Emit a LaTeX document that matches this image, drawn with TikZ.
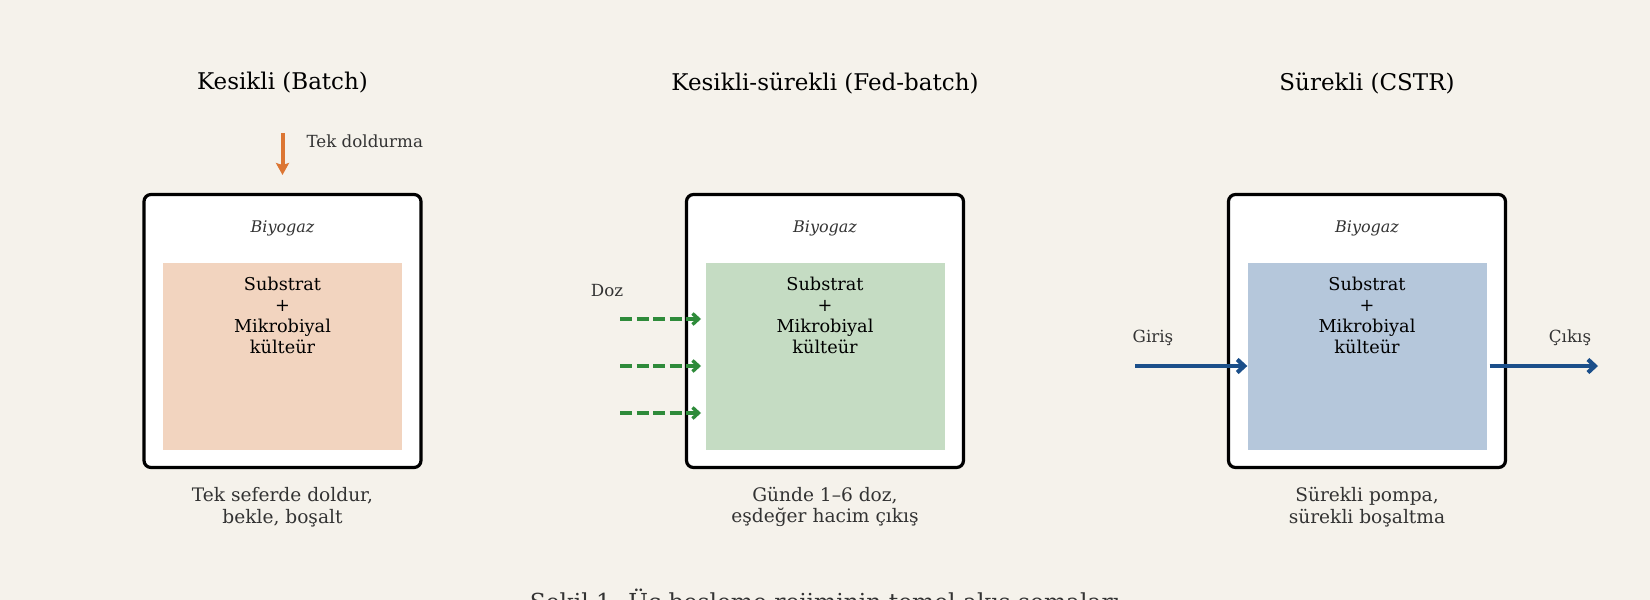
\documentclass[tikz,border=0pt]{standalone}
\usepackage{fontspec}
\setmainfont{DejaVu Serif}
\usetikzlibrary{positioning,arrows.meta}
\definecolor{paper}{HTML}{F5F2EB}
\definecolor{batchFill}{HTML}{F2D4BF}
\definecolor{fedFill}{HTML}{C5DCC3}
\definecolor{cstrFill}{HTML}{B5C7DB}
\definecolor{fillOrange}{HTML}{DC7633}
\definecolor{dozGreen}{HTML}{2E8B3A}
\definecolor{flowBlue}{HTML}{1B4F8A}
\definecolor{inkGray}{HTML}{333333}
\tikzset{
  vessel/.style={draw, line width=3.2pt, rounded corners=7pt, fill=white,
    minimum width=277pt, minimum height=273pt},
  culture/.style={minimum width=239pt, minimum height=187pt, inner sep=0pt},
  mixtext/.style={align=center, font=\fontsize{17.7}{21}\selectfont, inner sep=0pt},
  regime/.style={font=\fontsize{23}{27}\selectfont},
  gas/.style={font=\fontsize{16}{19}\selectfont\itshape, text=inkGray},
  note/.style={align=center, font=\fontsize{18.6}{21.5}\selectfont, text=inkGray},
  tag/.style={font=\fontsize{16.7}{19}\selectfont, text=inkGray},
  onearrow/.style={draw=fillOrange, line width=4pt, -{Stealth[length=12pt,width=13pt,inset=2pt]}},
  dozarrow/.style={draw=dozGreen, line width=3.4pt, dash pattern=on 12pt off 4.5pt,
    -{Straight Barb[length=6pt,width=11pt]}},
  flowarrow/.style={draw=flowBlue, line width=4.2pt, -{Straight Barb[length=7pt,width=13pt]}}
}
\begin{document}
\begin{tikzpicture}[x=1pt,y=-1pt]
    \fill[paper] (0,0) rectangle (1650,600);
    \useasboundingbox (0,0) rectangle (1650,600);

    % Batch
    \node[regime] (batchtitle) at (282.5,83) {Kesikli (Batch)};
    \node[vessel] (batch) at (282.5,331) {};
    \node[gas] (batchgas) at (282.5,228) {Biyogaz};
    \node[culture, fill=batchFill] (batchmix) at (282.5,356.5) {};
    \node[mixtext, below=14pt of batchmix.north] (batchtext) {Substrat\\+\\Mikrobiyal\\külteür};
    \node[note] (batchnote) at (282.5,507) {Tek seferde doldur,\\bekle, boşalt};
    \coordinate (filltop) at (282.5,133);
    \coordinate (fillend) at (282.5,175);
    \draw[onearrow] (filltop) -- (fillend);
    \node[tag, anchor=west] (filltag) at (303,141) {Tek doldurma};

    % Fed-batch
    \node[regime] (fedtitle) at (825,83) {Kesikli-sürekli (Fed-batch)};
    \node[vessel] (fed) at (825,331) {};
    \node[gas] (fedgas) at (825,228) {Biyogaz};
    \node[culture, fill=fedFill] (fedmix) at (825,356.5) {};
    \node[mixtext, below=14pt of fedmix.north] (fedtext) {Substrat\\+\\Mikrobiyal\\külteür};
    \node[note] (fednote) at (825,507) {Günde 1–6 doz,\\eşdeğer hacim çıkış};
    \node[tag] (doztag) at (607,291) {Doz};
    \foreach \i/\y in {1/319,2/366,3/413} {
        \coordinate (doz\i) at (620,\y);
        \coordinate (dozend\i) at (701,\y);
        \draw[dozarrow] (doz\i) -- (dozend\i);
    }

    % CSTR
    \node[regime] (cstrtitle) at (1367,83) {Sürekli (CSTR)};
    \node[vessel] (cstr) at (1367,331) {};
    \node[gas] (cstrgas) at (1367,228) {Biyogaz};
    \node[culture, fill=cstrFill] (cstrmix) at (1367,356.5) {};
    \node[mixtext, below=14pt of cstrmix.north] (cstrtext) {Substrat\\+\\Mikrobiyal\\külteür};
    \node[note] (cstrnote) at (1367,507) {Sürekli pompa,\\sürekli boşaltma};
    \node[tag] (intag) at (1153,338) {Giriş};
    \node[tag] (outtag) at (1570,338) {Çıkış};
    \coordinate (instart) at (1135,366);
    \coordinate (outend) at (1598,366);
    \draw[flowarrow] (instart) -- (cstrmix.west |- instart);
    \draw[flowarrow] (cstrmix.east |- outend) ++(3,0) -- (outend);

    % caption
    \node[font=\fontsize{23.4}{28}\selectfont, text=inkGray] (caption) at (825,602)
        {Şekil 1. Üç besleme rejiminin temel akış şemaları};
\end{tikzpicture}
\end{document}
